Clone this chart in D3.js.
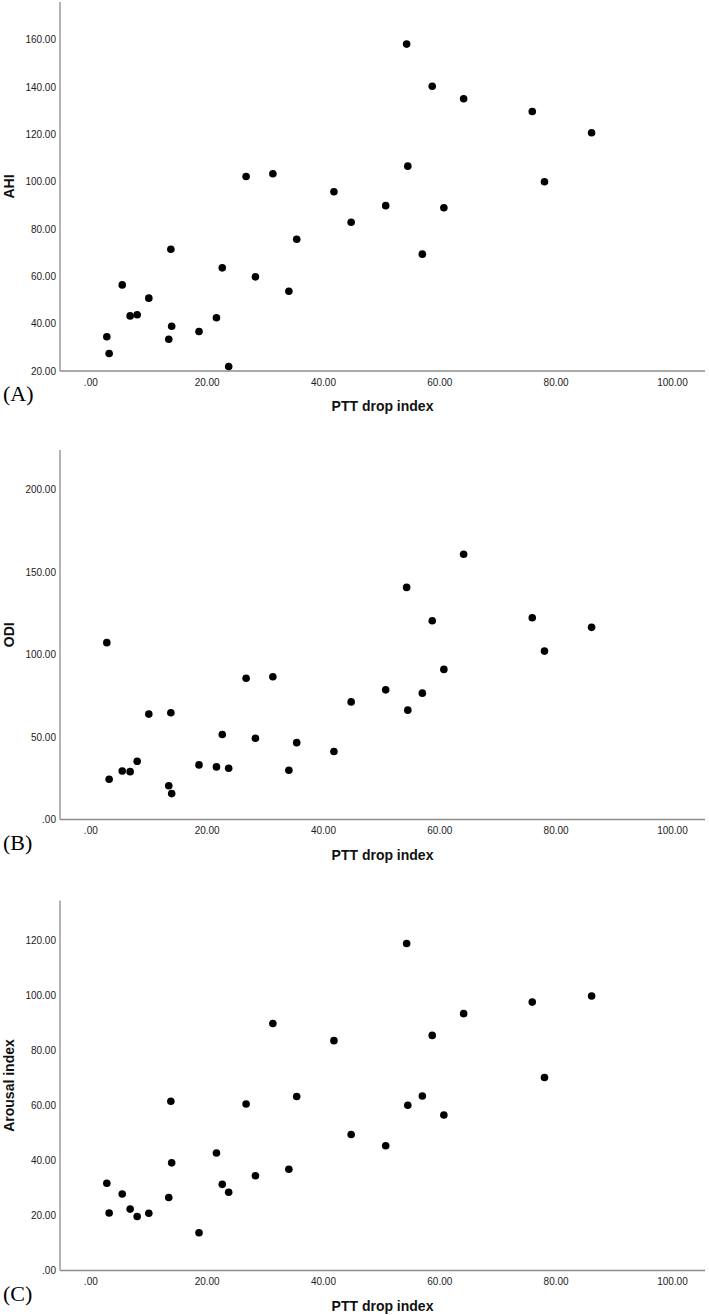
<html>
<head>
<script src="https://d3js.org/d3.v7.min.js"></script>
<style>
    body { margin: 0; background: #fff; }
    .tick-label { font-family: "Liberation Sans", Arial, sans-serif; font-size: 10px; fill: #222; }
    .axis-title { font-family: "Liberation Sans", Arial, sans-serif; font-size: 14px; font-weight: bold; fill: #111; }
    .panel-letter { font-family: "Liberation Serif", "Times New Roman", serif; font-size: 22px; fill: #000; }
</style>
</head>
<body>
<svg width="709" height="1315"></svg>
<script>

// PTT drop index (same subjects in every panel)
var ptt = [2.75, 3.15, 5.4, 6.76, 7.97, 9.97, 13.4, 13.9, 13.76, 18.6, 21.6, 22.6, 23.7,
           26.7, 28.3, 31.3, 34.05, 35.4, 41.8, 44.76, 50.7, 54.3, 54.5, 57.0, 58.7, 60.7,
           64.1, 75.9, 78.0, 86.1];

var ahi = [34.5, 27.4, 56.4, 43.3, 43.8, 50.8, 33.4, 38.9, 71.5, 36.7, 42.5, 63.6, 21.9,
           102.2, 59.8, 103.4, 53.7, 75.7, 95.8, 82.9, 89.9, 158.2, 106.6, 69.4, 140.4, 89.0,
           135.1, 129.7, 100.0, 120.7];

var odi = [107.2, 24.4, 29.4, 29.0, 35.3, 63.9, 20.5, 15.7, 64.7, 33.1, 31.9, 51.5, 31.1,
           85.6, 49.3, 86.5, 29.9, 46.6, 41.2, 71.3, 78.6, 140.7, 66.3, 76.6, 120.5, 91.0,
           160.8, 122.3, 102.1, 116.5];

var arousal = [31.7, 20.9, 27.8, 22.3, 19.6, 20.8, 26.5, 39.1, 61.5, 13.7, 42.7, 31.3, 28.4,
               60.5, 34.4, 89.7, 36.8, 63.2, 83.5, 49.4, 45.3, 118.8, 60.0, 63.4, 85.4, 56.5,
               93.3, 97.5, 70.1, 99.7];

var xTicks = [0, 20, 40, 60, 80, 100];
var ahiTicks = [20, 40, 60, 80, 100, 120, 140, 160];
var odiTicks = [0, 50, 100, 150, 200];
var arousalTicks = [0, 20, 40, 60, 80, 100, 120];

var svg = d3.select("svg");

var left = 60, right = 705;

// SPSS style labels: ".00", "20.00"
var fmt = function(v) { return d3.format(".2f")(v).replace(/^0\./, "."); };

var x = d3.scaleLinear()
    .domain([-5.3, 105.6])
    .range([left, right]);

var panels = [
    { values: ahi, ticks: ahiTicks, domain: [20, 176], top: 2, bottom: 371, title: "AHI", letter: "(A)" },
    { values: odi, ticks: odiTicks, domain: [0, 224], top: 450, bottom: 819.5, title: "ODI", letter: "(B)" },
    { values: arousal, ticks: arousalTicks, domain: [0, 134.4], top: 900.5, bottom: 1270.5, title: "Arousal index", letter: "(C)" }
];

panels.forEach(function(p) {

    var y = d3.scaleLinear()
        .domain(p.domain)
        .range([p.bottom, p.top]);

    var g = svg.append("g");

    // axis lines, no tick marks
    g.append("line")
        .attr("x1", left).attr("x2", left)
        .attr("y1", p.top).attr("y2", p.bottom)
        .attr("stroke", "#8c8c8c").attr("stroke-width", 1.3);
    g.append("line")
        .attr("x1", left).attr("x2", right)
        .attr("y1", p.bottom).attr("y2", p.bottom)
        .attr("stroke", "#8c8c8c").attr("stroke-width", 1.3);

    g.selectAll(".ytick")
        .data(p.ticks)
        .enter()
        .append("text")
        .attr("class", "tick-label")
        .attr("x", left - 4)
        .attr("y", function(d) { return y(d); })
        .attr("dy", "0.35em")
        .attr("text-anchor", "end")
        .text(fmt);

    g.selectAll(".xtick")
        .data(xTicks)
        .enter()
        .append("text")
        .attr("class", "tick-label")
        .attr("x", function(d) { return x(d); })
        .attr("y", p.bottom + 11)
        .attr("dy", "0.35em")
        .attr("text-anchor", "middle")
        .text(fmt);

    g.selectAll("circle")
        .data(ptt)
        .enter()
        .append("circle")
        .attr("cx", function(d) { return x(d); })
        .attr("cy", function(d, i) { return y(p.values[i]); })
        .attr("r", 3.8)
        .attr("fill", "#000");

    g.append("text")
        .attr("class", "axis-title")
        .attr("x", (left + right) / 2)
        .attr("y", p.bottom + 40)
        .attr("text-anchor", "middle")
        .text("PTT drop index");

    g.append("text")
        .attr("class", "axis-title")
        .attr("transform", "translate(14," + ((p.top + p.bottom) / 2) + ") rotate(-90)")
        .attr("text-anchor", "middle")
        .text(p.title);

    g.append("text")
        .attr("class", "panel-letter")
        .attr("x", 3)
        .attr("y", p.bottom + 30)
        .text(p.letter);
});

</script>
</body>
</html>
